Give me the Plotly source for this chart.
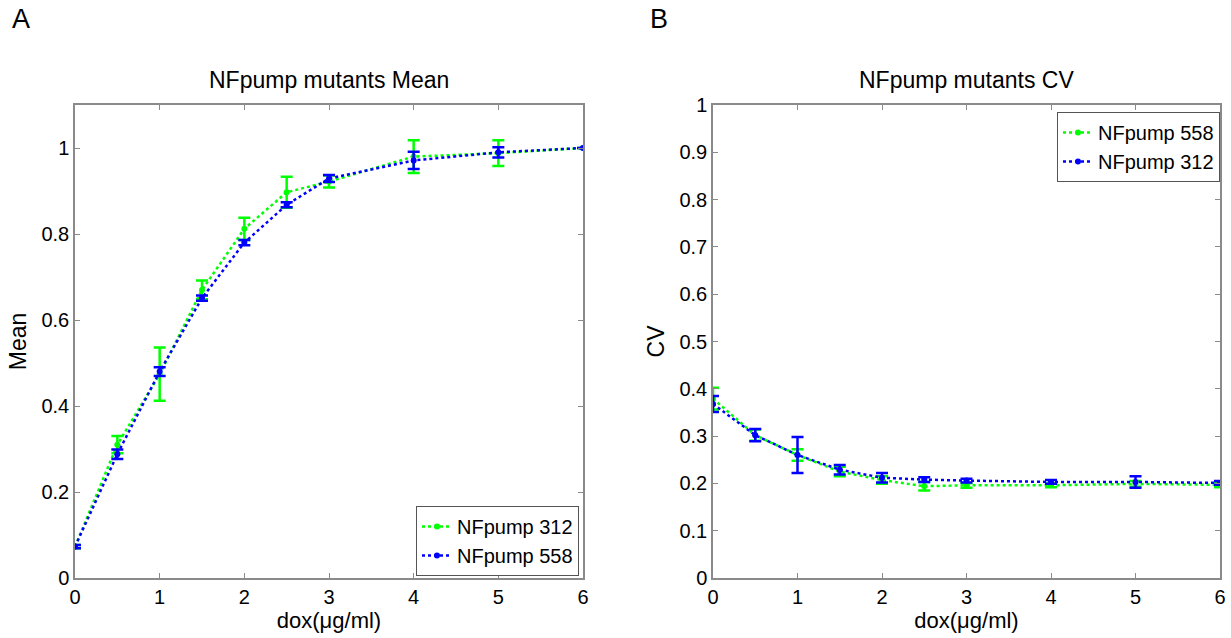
import plotly.graph_objects as go

dox = [0, 0.5, 1, 1.5, 2, 2.5, 3, 4, 5, 6]

# Panel A (Mean)
mean_312 = [0.073, 0.31, 0.474, 0.67, 0.812, 0.897, 0.922, 0.98, 0.988, 1.0]
mean_312_err = [0.004, 0.02, 0.062, 0.022, 0.026, 0.036, 0.014, 0.038, 0.03, 0.0]
mean_558 = [0.073, 0.288, 0.48, 0.651, 0.78, 0.868, 0.929, 0.971, 0.99, 1.0]
mean_558_err = [0.004, 0.011, 0.01, 0.006, 0.006, 0.006, 0.008, 0.02, 0.012, 0.0]

# Panel B (CV)
cv_558 = [0.379, 0.302, 0.26, 0.225, 0.207, 0.194, 0.196, 0.196, 0.199, 0.197]
cv_558_err = [0.023, 0.012, 0.012, 0.01, 0.008, 0.009, 0.005, 0.004, 0.006, 0.005]
cv_312 = [0.368, 0.302, 0.26, 0.229, 0.212, 0.208, 0.206, 0.203, 0.203, 0.201]
cv_312_err = [0.017, 0.013, 0.038, 0.01, 0.01, 0.005, 0.004, 0.004, 0.012, 0.004]

GREEN = "#00ff00"
BLUE = "#0000ff"
FONT = "Liberation Sans, Arial, sans-serif"

fig = go.Figure()

def add(x, y, err, color, name, xa, ya, legend):
    fig.add_trace(go.Scatter(
        x=x, y=y, name=name, mode="lines+markers",
        line=dict(color=color, width=2.5, dash="dot"),
        marker=dict(color=color, size=6),
        error_y=dict(type="data", array=err, visible=True, color=color,
                     thickness=2.5, width=6),
        xaxis=xa, yaxis=ya, legend=legend,
    ))

add(dox, mean_312, mean_312_err, GREEN, "NFpump 312", "x", "y", "legend")
add(dox, mean_558, mean_558_err, BLUE, "NFpump 558", "x", "y", "legend")
add(dox, cv_558, cv_558_err, GREEN, "NFpump 558", "x2", "y2", "legend2")
add(dox, cv_312, cv_312_err, BLUE, "NFpump 312", "x2", "y2", "legend2")

W, H = 1231, 638
dA = [75 / W, 583 / W]
dB = [713 / W, 1220 / W]
dy = [1 - 578 / H, 1 - 105 / H]

axis_common = dict(
    showline=True, linecolor="#8a8a8a", linewidth=1.5, mirror="ticks",
    ticks="inside", ticklen=5, tickcolor="#8a8a8a", showgrid=False,
    zeroline=False, automargin=False,
    tickfont=dict(family=FONT, size=20, color="#000"),
)

fig.update_layout(
    width=W, height=H,
    margin=dict(l=0, r=0, t=0, b=0),
    paper_bgcolor="white", plot_bgcolor="white",
    font=dict(family=FONT, color="#000"),
    xaxis=dict(domain=dA, range=[0, 6], dtick=1, anchor="y",
               title=dict(text="dox(μg/ml)", font=dict(size=22), standoff=1),
               **axis_common),
    yaxis=dict(domain=dy, range=[0, 1.1], tickvals=[0, 0.2, 0.4, 0.6, 0.8, 1],
               ticktext=["0", "0.2", "0.4", "0.6", "0.8", "1"], anchor="x",
               title=dict(text="Mean", font=dict(size=23), standoff=8),
               **axis_common),
    xaxis2=dict(domain=dB, range=[0, 6], dtick=1, anchor="y2",
                title=dict(text="dox(μg/ml)", font=dict(size=22), standoff=1),
                **axis_common),
    yaxis2=dict(domain=dy, range=[0, 1], anchor="x2",
                tickvals=[0, 0.1, 0.2, 0.3, 0.4, 0.5, 0.6, 0.7, 0.8, 0.9, 1],
                ticktext=["0", "0.1", "0.2", "0.3", "0.4", "0.5", "0.6", "0.7", "0.8", "0.9", "1"],
                title=dict(text="CV", font=dict(size=23), standoff=8),
                **axis_common),
    legend=dict(x=579 / W, y=1 - 506 / H, xanchor="right", yanchor="top",
                bordercolor="#555", borderwidth=1, bgcolor="white",
                font=dict(size=20, family=FONT), tracegroupgap=0,
                itemwidth=30),
    legend2=dict(x=1220 / W, y=1 - 112 / H, xanchor="right", yanchor="top",
                 bordercolor="#555", borderwidth=1, bgcolor="white",
                 font=dict(size=20, family=FONT), tracegroupgap=0,
                 itemwidth=30),
    showlegend=True,
    annotations=[
        dict(text="NFpump mutants Mean", x=(dA[0] + dA[1]) / 2, y=1 - 80 / H,
             xref="paper", yref="paper", showarrow=False,
             font=dict(size=23, family=FONT), xanchor="center", yanchor="middle"),
        dict(text="NFpump mutants CV", x=(dB[0] + dB[1]) / 2, y=1 - 80 / H,
             xref="paper", yref="paper", showarrow=False,
             font=dict(size=23, family=FONT), xanchor="center", yanchor="middle"),
        dict(text="A", x=10 / W, y=1 - 19 / H, xref="paper", yref="paper",
             showarrow=False, font=dict(size=27, family=FONT),
             xanchor="left", yanchor="middle"),
        dict(text="B", x=648 / W, y=1 - 19 / H, xref="paper", yref="paper",
             showarrow=False, font=dict(size=27, family=FONT),
             xanchor="left", yanchor="middle"),
    ],
)

fig.write_html("out.html")
